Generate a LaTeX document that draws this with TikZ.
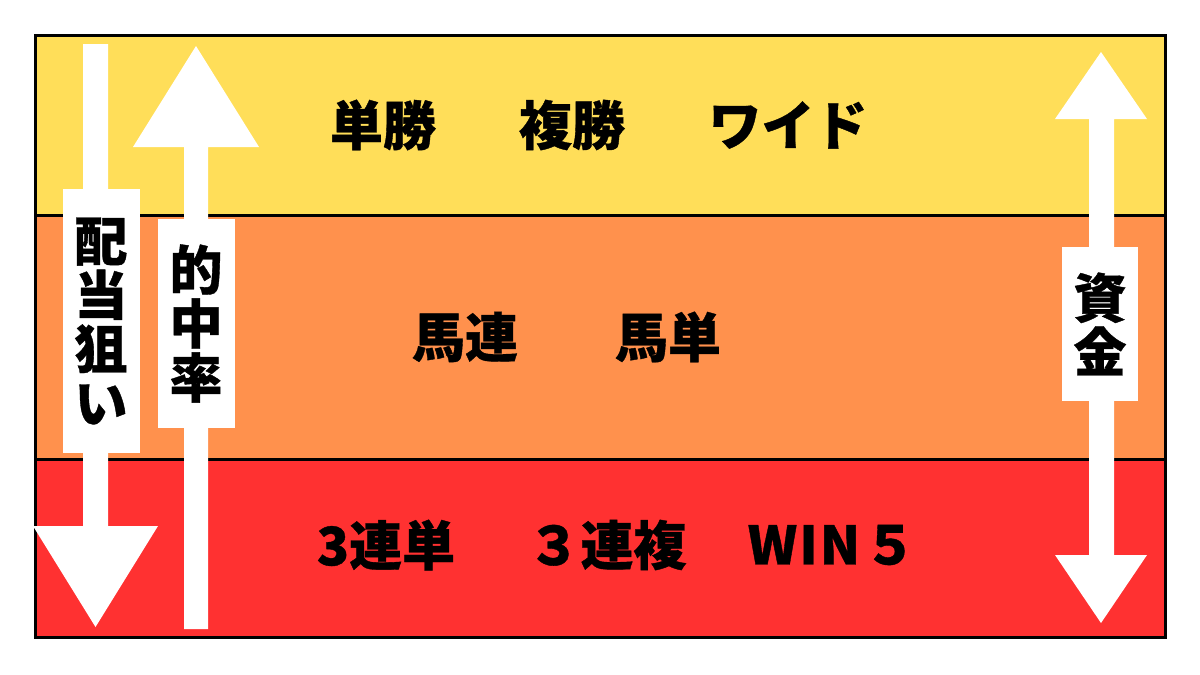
\documentclass[tikz,border=0pt]{standalone}
\usepackage{fontspec}
\setmainfont{Noto Sans CJK JP}[BoldFeatures={FakeBold=0.7}]
\usetikzlibrary{positioning}
\definecolor{topband}{RGB}{255, 222, 89}
\definecolor{midband}{RGB}{255, 145, 77}
\definecolor{lowband}{RGB}{255, 49, 49}

\begin{document}
\begin{tikzpicture}[
    x=1pt, y=-1pt,
    bet/.style={font=\bfseries\fontsize{53}{53}\selectfont, inner sep=0pt},
    tag/.style={fill=white, font=\bfseries\fontsize{53}{54}\selectfont, align=center, inner sep=0pt, minimum width=77pt},
    bigarrow/.style={fill=white},
    rule/.style={line width=3pt}
]
    \useasboundingbox (0,0) rectangle (1200,675);

    % Bands
    \fill[topband] (35,35) rectangle (1165,215);
    \fill[midband] (35,215) rectangle (1165,459);
    \fill[lowband] (35,459) rectangle (1165,637);
    \draw[rule] (35,215) -- (1165,215);
    \draw[rule] (35,459) -- (1165,459);
    \draw[rule] (35,35) rectangle (1165,637);

    % Arrows
    \fill[bigarrow] (83,44) -- (108,44) -- (108,526) -- (158,526) -- (95.5,627) -- (33,526) -- (83,526) -- cycle;
    \fill[bigarrow] (196,46) -- (259,147) -- (208,147) -- (208,629) -- (184,629) -- (184,147) -- (133,147) -- cycle;
    \fill[bigarrow] (1101,52) -- (1147,119) -- (1114,119) -- (1114,555) -- (1147,555) -- (1101,623)
        -- (1055,555) -- (1089,555) -- (1089,119) -- (1055,119) -- cycle;

    % Labels on the arrows
    \node[tag, minimum height=264pt] (payout) at (101,321) {配\\当\\狙\\い};
    \node[tag, minimum height=209pt] (hitrate) at (196,323.5) {的\\中\\率};
    \node[tag, minimum height=154pt, minimum width=76pt] (funds) at (1100,324) {資\\金};

    % Bet types
    \node[bet] (tansho) at (383,125) {単勝};
    \node[bet] (fukusho) at (572,125) {複勝};
    \node[bet] (wide) at (788,125) {ワイド};
    \node[bet] (umaren) at (465,337) {馬連};
    \node[bet] (umatan) at (668,337) {馬単};
    \node[bet] (sanrentan) at (386,545) {3連単};
    \node[bet] (sanrenpuku) at (607,545) {３連複};
    \node[bet] (winfive) at (832,545) {W\kern2pt I\kern2pt N\kern3pt５};
\end{tikzpicture}
\end{document}
